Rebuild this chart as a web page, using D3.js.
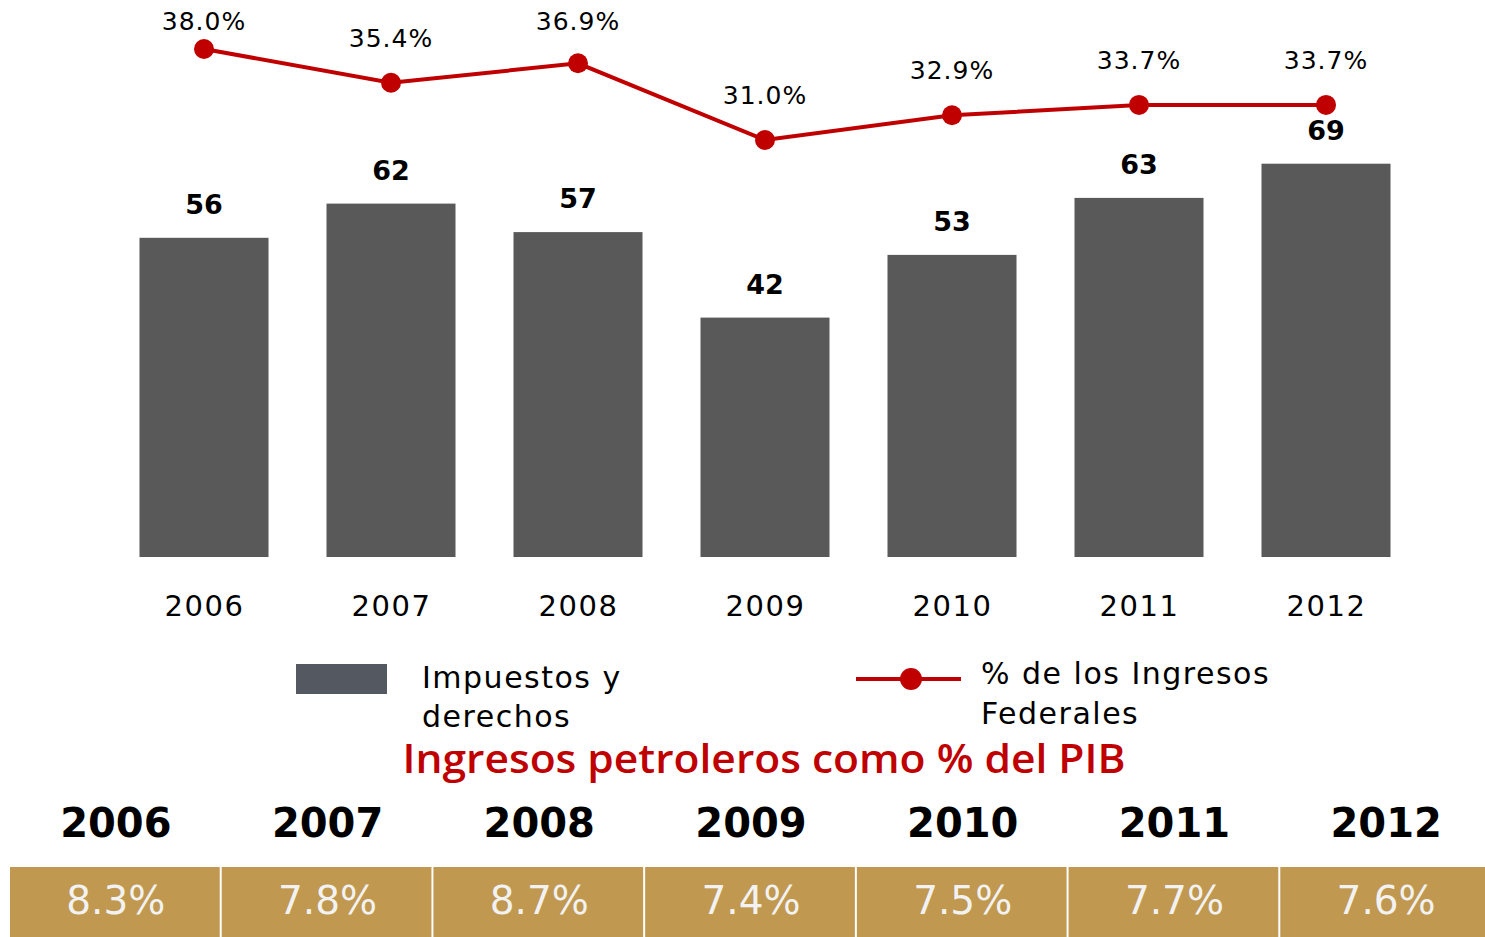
<!DOCTYPE html>
<html>
<head>
<meta charset="utf-8">
<script src="https://cdn.jsdelivr.net/npm/d3@7"></script>
<style>
  body { margin: 0; background: #fff; }
  svg { display: block; font-family: "DejaVu Sans", sans-serif; }
</style>
</head>
<body>
<div id="chart"></div>
<script>
// data
const years = ["2006", "2007", "2008", "2009", "2010", "2011", "2012"];
const impuestos = [56, 62, 57, 42, 53, 63, 69];
const pctIngresos = [38.0, 35.4, 36.9, 31.0, 32.9, 33.7, 33.7];
const pctPIB = [8.3, 7.8, 8.7, 7.4, 7.5, 7.7, 7.6];

const W = 1485, H = 937;
const svg = d3.select("#chart").append("svg")
  .attr("width", W).attr("height", H);

// scales
const x = d3.scalePoint().domain(years).range([204, 1326]);
const barW = 129;
const y = d3.scaleLinear().domain([0, 70]).range([557, 158]);
const yLine = d3.scaleLinear().domain([31, 38]).range([140, 49]);

// bars
svg.selectAll("rect.bar")
  .data(impuestos)
  .enter().append("rect")
    .attr("class", "bar")
    .attr("x", (d, i) => x(years[i]) - barW / 2)
    .attr("y", d => y(d))
    .attr("width", barW)
    .attr("height", d => y(0) - y(d))
    .attr("fill", "#595959");

svg.selectAll("text.barlab")
  .data(impuestos)
  .enter().append("text")
    .attr("x", (d, i) => x(years[i]))
    .attr("y", d => y(d) - 24)
    .attr("text-anchor", "middle")
    .style("font-size", "27px")
    .style("font-weight", "bold")
    .text(d => d);

// x axis labels (no line)
const xAxis = svg.append("g")
  .attr("transform", "translate(0,557)")
  .call(d3.axisBottom(x).tickSize(0).tickPadding(0));
xAxis.select(".domain").remove();
xAxis.selectAll("text")
  .attr("y", 59)
  .attr("dy", 0)
  .style("font-size", "29px")
  .style("letter-spacing", "1.5px")
  .style("font-family", "DejaVu Sans, sans-serif")
  .attr("fill", "#000");

// line
const line = d3.line()
  .x((d, i) => x(years[i]))
  .y(d => yLine(d));

svg.append("path")
  .datum(pctIngresos)
  .attr("d", line)
  .attr("fill", "none")
  .attr("stroke", "#C00000")
  .attr("stroke-width", 4);

svg.selectAll("circle.pt")
  .data(pctIngresos)
  .enter().append("circle")
    .attr("cx", (d, i) => x(years[i]))
    .attr("cy", d => yLine(d))
    .attr("r", 10)
    .attr("fill", "#C00000");

svg.selectAll("text.pctlab")
  .data(pctIngresos)
  .enter().append("text")
    .attr("x", (d, i) => x(years[i]))
    .attr("y", d => Math.max(30, yLine(d) - 36))
    .attr("text-anchor", "middle")
    .style("font-size", "25px")
    .style("letter-spacing", "1px")
    .text(d => d.toFixed(1) + "%");

// legend
svg.append("rect")
  .attr("x", 296).attr("y", 664)
  .attr("width", 91).attr("height", 30)
  .attr("fill", "#545861");

const leg1 = svg.append("text")
  .attr("x", 422).attr("y", 688)
  .style("font-size", "30px")
  .style("letter-spacing", "1.5px");
leg1.append("tspan").attr("x", 422).text("Impuestos y");
leg1.append("tspan").attr("x", 422).attr("dy", 39).text("derechos");

svg.append("line")
  .attr("x1", 856).attr("x2", 961)
  .attr("y1", 679).attr("y2", 679)
  .attr("stroke", "#C00000").attr("stroke-width", 4);
svg.append("circle")
  .attr("cx", 911).attr("cy", 679).attr("r", 11)
  .attr("fill", "#C00000");

const leg2 = svg.append("text")
  .attr("x", 981).attr("y", 684)
  .style("font-size", "30px")
  .style("letter-spacing", "1.5px");
leg2.append("tspan").attr("x", 981).text("% de los Ingresos");
leg2.append("tspan").attr("x", 981).attr("dy", 40).text("Federales");

// title
svg.append("text")
  .attr("x", 764).attr("y", 773)
  .attr("text-anchor", "middle")
  .attr("fill", "#C00000")
  .style("font-family", "Open Sans, sans-serif")
  .style("font-weight", "600")
  .style("font-size", "39px")
  .attr("textLength", 723)
  .attr("lengthAdjust", "spacingAndGlyphs")
  .text("Ingresos petroleros como % del PIB");

// table
const xt = d3.scaleBand().domain(years).range([10, 1492]).paddingInner(0);

svg.selectAll("text.tyear")
  .data(years)
  .enter().append("text")
    .attr("x", d => xt(d) + xt.bandwidth() / 2)
    .attr("y", 837)
    .attr("text-anchor", "middle")
    .style("font-size", "40px")
    .style("font-weight", "bold")
    .text(d => d);

svg.selectAll("rect.cell")
  .data(pctPIB)
  .enter().append("rect")
    .attr("x", (d, i) => xt(years[i]))
    .attr("y", 867)
    .attr("width", xt.bandwidth() - 2)
    .attr("height", 70)
    .attr("fill", "#C0984F");

svg.selectAll("text.cellval")
  .data(pctPIB)
  .enter().append("text")
    .attr("x", (d, i) => xt(years[i]) + xt.bandwidth() / 2)
    .attr("y", 914)
    .attr("text-anchor", "middle")
    .attr("fill", "#F2F2F2")
    .style("font-size", "39px")
    .text(d => d.toFixed(1) + "%");
</script>
</body>
</html>
